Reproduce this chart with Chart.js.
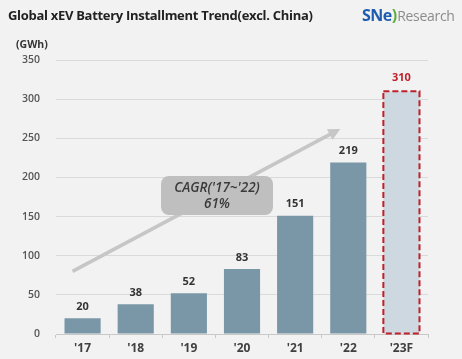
<!DOCTYPE html>
<html>
<head>
<meta charset="utf-8">
<script src="https://cdn.jsdelivr.net/npm/chart.js@4.4.0/dist/chart.umd.min.js"></script>
<style>
  html, body { margin: 0; padding: 0; background: #f2f2f2; }
  #wrap { position: relative; width: 462px; height: 359px; overflow: hidden; font-family: "Open Sans", sans-serif; }
  #c { position: absolute; left: 0; top: 0; }
  .title { position: absolute; left: 8px; top: 6px; font-weight: bold; font-size: 13px; letter-spacing: -0.3px; color: #222; white-space: nowrap; }
  .unit { position: absolute; left: 16px; top: 37px; font-weight: bold; font-size: 10.5px; color: #333; }
  .logo { position: absolute; left: 362px; top: 4px; white-space: nowrap; font-size: 14px; }
  .logo .sne { font-weight: bold; color: #1d5caf; font-size: 16px; letter-spacing: -0.5px; }
  .logo .arc { color: #5cae3c; font-weight: bold; font-size: 16px; }
  .logo .res { color: #8c8c8c; letter-spacing: -0.3px; }
</style>
</head>
<body>
<div id="wrap">
  <canvas id="c" width="462" height="359"></canvas>
  <div class="title">Global xEV Battery Installment Trend(excl. China)</div>
  <div class="logo"><span class="sne">SNe</span><span class="arc">)</span><span class="res">Research</span></div>
  <div class="unit">(GWh)</div>
</div>
<script>
const years = ["'17", "'18", "'19", "'20", "'21", "'22", "'23F"];
const installs = [20, 38, 52, 83, 151, 219, 310];
const yTicks = [0, 50, 100, 150, 200, 250, 300, 350];
const forecastIndex = 6;
const cagrLines = ["CAGR('17~'22)", "61%"];

const barColor = '#7a97a8';
const forecastColor = '#cdd8e0';
const redColor = '#c0202a';

const overlay = {
  id: 'overlay',
  afterDatasetsDraw(chart) {
    const ctx = chart.ctx;
    const meta = chart.getDatasetMeta(0);
    const xs = chart.scales.x, ys = chart.scales.y;

    // dashed border on the forecast bar
    const fb = meta.data[forecastIndex];
    ctx.save();
    ctx.strokeStyle = redColor;
    ctx.lineWidth = 2;
    ctx.setLineDash([6, 3]);
    const left = fb.x - fb.width / 2, right = fb.x + fb.width / 2;
    ctx.strokeRect(left, fb.y, right - left, fb.base - fb.y);
    ctx.restore();

    // value labels
    ctx.save();
    ctx.font = 'bold 11px "Open Sans"';
    ctx.textAlign = 'center';
    ctx.textBaseline = 'bottom';
    meta.data.forEach((bar, i) => {
      ctx.fillStyle = i === forecastIndex ? redColor : '#333';
      ctx.fillText(String(installs[i]), bar.x, bar.y - (i === forecastIndex ? 8 : 6));
    });
    ctx.restore();

    // CAGR arrow
    const step = xs.getPixelForValue(1) - xs.getPixelForValue(0);
    const x0 = xs.getPixelForValue(0) - step * 0.19, y0 = ys.getPixelForValue(80);
    const x1 = xs.getPixelForValue(5) - step * 0.15, y1 = ys.getPixelForValue(262);
    const ang = Math.atan2(y1 - y0, x1 - x0);
    ctx.save();
    ctx.strokeStyle = '#c6c6c6';
    ctx.fillStyle = '#c6c6c6';
    ctx.lineWidth = 3.5;
    ctx.beginPath();
    ctx.moveTo(x0, y0);
    ctx.lineTo(x1 - 8 * Math.cos(ang), y1 - 8 * Math.sin(ang));
    ctx.stroke();
    ctx.beginPath();
    ctx.moveTo(x1, y1);
    ctx.lineTo(x1 - 12 * Math.cos(ang) + 6 * Math.sin(ang), y1 - 12 * Math.sin(ang) - 6 * Math.cos(ang));
    ctx.lineTo(x1 - 12 * Math.cos(ang) - 6 * Math.sin(ang), y1 - 12 * Math.sin(ang) + 6 * Math.cos(ang));
    ctx.closePath();
    ctx.fill();

    // CAGR box
    const bx = 161, by = 176, bw = 112, bh = 39, r = 8;
    ctx.fillStyle = '#bfbfbf';
    ctx.beginPath();
    ctx.roundRect(bx, by, bw, bh, r);
    ctx.fill();
    ctx.fillStyle = '#3a3a3a';
    ctx.font = 'italic 600 13.5px "Open Sans"';
    ctx.textAlign = 'center';
    ctx.textBaseline = 'middle';
    ctx.fillText(cagrLines[0], bx + bw / 2, by + 12);
    ctx.fillText(cagrLines[1], bx + bw / 2, by + 28);
    ctx.restore();
  }
};

new Chart(document.getElementById('c'), {
  type: 'bar',
  data: {
    labels: years,
    datasets: [{
      data: installs,
      backgroundColor: installs.map((v, i) => i === forecastIndex ? forecastColor : barColor),
      borderWidth: 0,
      categoryPercentage: 1,
      barPercentage: 0.68
    }]
  },
  options: {
    responsive: false,
    animation: false,
    events: [],
    layout: { padding: { top: 60, right: 34, left: 0, bottom: 0 } },
    plugins: { legend: { display: false }, tooltip: { enabled: false } },
    scales: {
      x: {
        afterFit: s => { s.height = 25; },
        grid: { offset: true, drawOnChartArea: false, tickLength: 4, color: '#c8c8c8' },
        border: { color: '#c8c8c8' },
        ticks: { color: '#404040', font: { family: 'Open Sans', size: 12, weight: 'bold' }, padding: 3 }
      },
      y: {
        min: 0, max: 350,
        afterFit: s => { s.width = 56; },
        afterBuildTicks: s => { s.ticks = yTicks.map(v => ({ value: v })); },
        grid: { color: '#dadada', drawTicks: false },
        border: { display: false },
        ticks: { color: '#555', font: { family: 'Open Sans', size: 10.5, weight: '600' }, padding: 16 }
      }
    }
  },
  plugins: [overlay]
});
</script>
</body>
</html>
